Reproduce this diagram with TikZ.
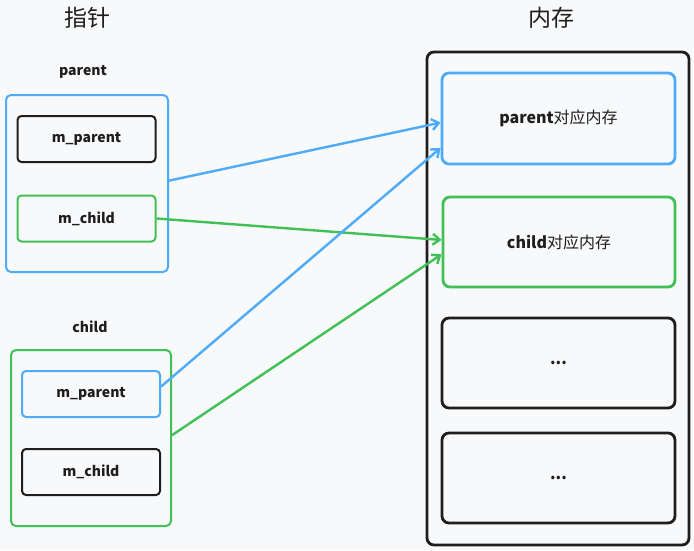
\documentclass[tikz,border=0pt]{standalone}
\usepackage{fontspec}
\setmainfont{Noto Sans CJK SC}
\usetikzlibrary{shapes,arrows.meta,positioning}
\definecolor{ptrblue}{HTML}{4DABF7}
\definecolor{objgreen}{HTML}{40C057}
\definecolor{inkblack}{HTML}{1E1E1E}
\definecolor{paper}{HTML}{F8F9FA}

\begin{document}
\begin{tikzpicture}[x=1pt,y=-1pt,>={Straight Barb[length=7pt,width=11pt]}]
\tikzstyle{field}=[draw=inkblack, line width=2pt, rounded corners=4pt,
minimum width=138pt, minimum height=46pt, inner sep=0pt,
font=\fontsize{14}{16}\selectfont\bfseries, text=inkblack]
\tikzstyle{obj}=[draw, line width=2pt, rounded corners=5pt, inner sep=0pt]
\tikzstyle{mem}=[draw=inkblack, line width=2.8pt, rounded corners=7pt,
minimum width=232pt, minimum height=90pt, inner sep=0pt,
font=\fontsize{16}{18}\selectfont, text=inkblack]
\tikzstyle{title}=[font=\fontsize{23}{25}\selectfont, text=inkblack]
\tikzstyle{ann}=[font=\fontsize{14}{16}\selectfont\bfseries, text=inkblack]
\tikzstyle{link}=[line width=2.4pt]

\fill[paper] (0,0) rectangle (694,550);
\useasboundingbox (0,0) rectangle (694,550);

% pointer side
\node (ptrtitle) [title] at (87,18) {指针};
\node (parentlbl) [ann] at (83,72) {parent};
\node (parentobj) [obj, draw=ptrblue, minimum width=162pt, minimum height=177pt] at (87,183.5) {};
\node (pmparent) [field] at (86.5,139) {m\_parent};
\node (pmchild) [field, draw=objgreen] at (86.5,218.5) {m\_child};

\node (childlbl) [ann] at (90,327) {child};
\node (childobj) [obj, draw=objgreen, minimum width=160pt, minimum height=176pt] at (91,438) {};
\node (cmparent) [field, draw=ptrblue] at (91,394) {m\_parent};
\node (cmchild) [field] at (91,472) {m\_child};

% memory side
\node (memtitle) [title] at (551,18) {内存};
\node (memory) [mem, minimum width=262pt, minimum height=493pt] at (558,298.5) {};
\node (parentmem) [mem, draw=ptrblue, minimum width=233pt, minimum height=91pt] at (558.5,118.5) {\textbf{parent}对应内存};
\node (childmem) [mem, draw=objgreen] at (559,242) {\textbf{child}对应内存};
\node (freemem1) [mem, minimum width=233pt] at (558.5,363) {\raisebox{-3pt}{\textbf{...}}};
\node (freemem2) [mem, minimum width=233pt] at (558.5,478) {\raisebox{-3pt}{\textbf{...}}};

% links
\path [draw, ->, link, ptrblue] (parentobj.2) -- (parentmem.182);
\path [draw, ->, link, objgreen] (pmchild.east) -- (childmem.179);
\path [draw, ->, link, ptrblue] (cmparent.6) -- (parentmem.194);
\path [draw, ->, link, objgreen] (childobj.2) -- (childmem.186);
\end{tikzpicture}
\end{document}
